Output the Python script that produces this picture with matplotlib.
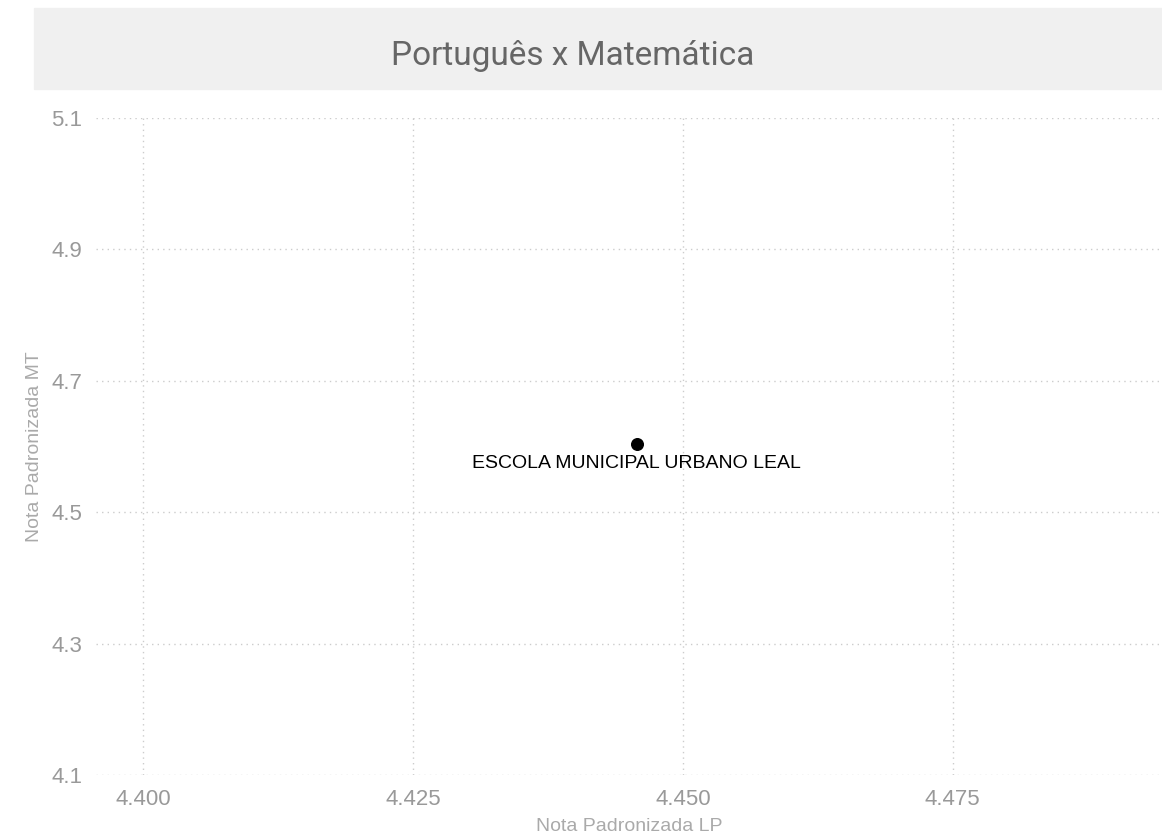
import matplotlib
matplotlib.use('Agg')
import matplotlib.pyplot as plt
from matplotlib.patches import Rectangle

# data
escolas = ['ESCOLA MUNICIPAL URBANO LEAL']
nota_lp = [4.4457]
nota_mt = [4.604]
x_ticks = [4.400, 4.425, 4.450, 4.475]
y_ticks = [4.1, 4.3, 4.5, 4.7, 4.9, 5.1]

W, H = 1162, 836
fig = plt.figure(figsize=(W / 100, H / 100), dpi=100)
plt.rcParams['font.family'] = ['Liberation Sans', 'DejaVu Sans']

# title band
fig.patches.append(Rectangle((34 / W, 1 - 89 / H), (W - 34) / W, 81 / H,
                             transform=fig.transFigure, color='#f0f0f0', zorder=0))
fig.text(573 / W, 1 - 65 / H, 'Português x Matemática', ha='center', va='baseline',
         fontsize=24, color='#666666',
         family=['Roboto', 'Liberation Sans'])

ax = fig.add_axes([96 / W, (H - 775) / H, (W - 96) / W, (775 - 118) / H])
ax.scatter(nota_lp, nota_mt, s=70, color='black', zorder=3)
for nome, x, y in zip(escolas, nota_lp, nota_mt):
    ax.annotate(nome, (x, y), xytext=(0, -20), textcoords='offset points',
                ha='center', va='bottom', fontsize=14, color='black')

ax.set_xlim(4.3956, 4.4944)
ax.set_ylim(4.1, 5.1)
ax.set_xticks(x_ticks)
ax.set_xticklabels([f'{v:.3f}' for v in x_ticks])
ax.set_yticks(y_ticks)
ax.set_yticklabels([f'{v:.1f}' for v in y_ticks])
ax.tick_params(length=0, labelsize=16, labelcolor='#999999', pad=10)
ax.grid(True, linestyle=(0, (1, 3)), color='#cccccc', linewidth=1)
for s in ax.spines.values():
    s.set_visible(False)
ax.set_xlabel('Nota Padronizada LP', fontsize=14, color='#aaaaaa', labelpad=6)
ax.set_ylabel('Nota Padronizada MT', fontsize=14, color='#aaaaaa', labelpad=6)

fig.savefig('out.png', dpi=100)
